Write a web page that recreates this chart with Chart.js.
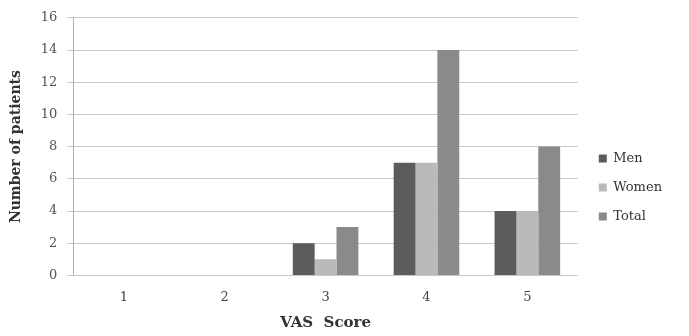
<!DOCTYPE html>
<html>
<head>
<meta charset="utf-8">
<script src="https://cdn.jsdelivr.net/npm/chart.js@4/dist/chart.umd.min.js"></script>
<style>
html,body{margin:0;padding:0;background:#fff;}
#wrap{width:689px;height:336px;position:relative;}
</style>
</head>
<body>
<div id="wrap"><canvas id="c" width="689" height="336"></canvas></div>
<script>
const categories = ['1', '2', '3', '4', '5'];
const men = [0, 0, 2, 7, 4];
const women = [0, 0, 1, 7, 4];
const total = [0, 0, 3, 14, 8];
const yTicks = [0, 2, 4, 6, 8, 10, 12, 14, 16];

const FONT = "'DejaVu Serif', 'Liberation Serif', serif";

const legendShift = {
  id: 'legendShift',
  afterLayout(chart) {
    const l = chart.legend;
    if (l) { l.left += 5; l.right += 5; }
  }
};

new Chart(document.getElementById('c'), {
  type: 'bar',
  data: {
    labels: categories,
    datasets: [
      { label: 'Men', data: men, backgroundColor: '#5c5c5c' },
      { label: 'Women', data: women, backgroundColor: '#bababa' },
      { label: 'Total', data: total, backgroundColor: '#8a8a8a' }
    ]
  },
  plugins: [legendShift],
  options: {
    responsive: false,
    animation: false,
    layout: { padding: { left: 4, right: 22, top: 3, bottom: 2 } },
    datasets: { bar: { categoryPercentage: 0.65, barPercentage: 1.0 } },
    plugins: {
      legend: {
        position: 'right',
        title: { display: true, text: ' ', font: { size: 10 }, padding: { top: 13, bottom: 13 } },
        labels: {
          boxWidth: 8, boxHeight: 8, padding: 16,
          color: '#333',
          font: { family: FONT, size: 13 }
        }
      },
      tooltip: { enabled: false }
    },
    scales: {
      x: {
        grid: { display: false, drawTicks: false },
        border: { display: false },
        ticks: { color: '#444', font: { family: FONT, size: 13 }, padding: 14 },
        title: { display: true, text: 'VAS  Score', color: '#333', font: { family: FONT, size: 15, weight: 'bold' }, padding: { top: -5, bottom: 2 } }
      },
      y: {
        min: 0, max: 16,
        afterBuildTicks: (s) => { s.ticks = yTicks.map(v => ({ value: v })); },
        grid: { color: '#c8c8c8', tickLength: 6, lineWidth: 1 },
        border: { color: '#b0b0b0' },
        ticks: { color: '#555', font: { family: FONT, size: 13 }, padding: 10 },
        title: { display: true, text: 'Number of patients', color: '#333', font: { family: FONT, size: 14, weight: 'bold' }, padding: { bottom: 6 } }
      }
    }
  }
});
</script>
</body>
</html>
